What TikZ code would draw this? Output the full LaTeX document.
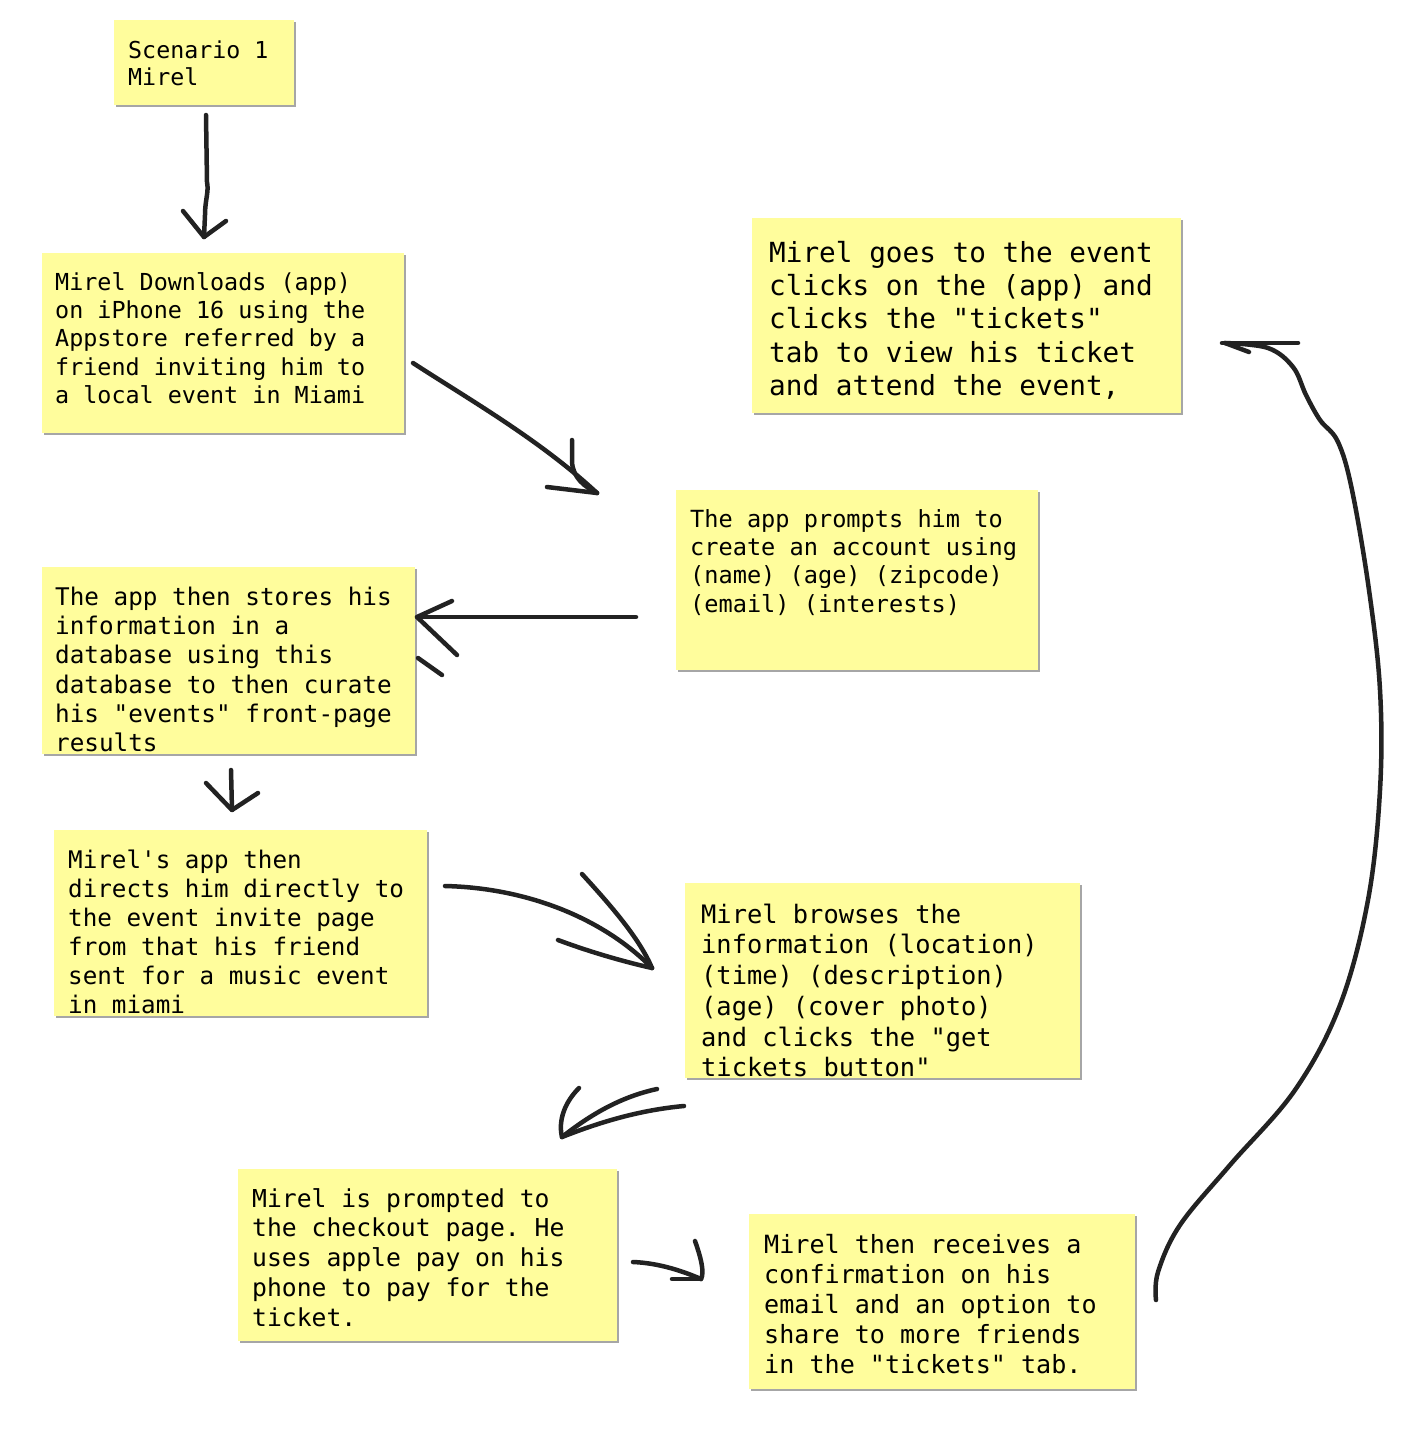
\documentclass[tikz,border=0pt]{standalone}
\usepackage{fontspec}
\setmonofont{DejaVu Sans Mono}
\usepackage{tikz}
\usetikzlibrary{shadows}

\definecolor{notefill}{HTML}{FFFD9C}
\definecolor{ink}{HTML}{222222}
\newcommand{\notefont}[2]{\ttfamily\fontsize{#1}{#2}\selectfont}
% a space as wide as a letter (align=left would make it narrow)
\newcommand{\monospaces}{\spaceskip=\fontcharwd\font`x\relax \xspaceskip=\spaceskip}

\begin{document}
\begin{tikzpicture}[x=1pt, y=-1pt]
			\tikzstyle{Note}	= [anchor=north west, fill=notefill, align=left, inner ysep=0pt,
								   execute at begin node=\monospaces,
								   drop shadow={shadow xshift=1.5pt, shadow yshift=-1.5pt, opacity=0.35, fill=black}]
			\tikzstyle{Hand}	= [line width=4.5pt, draw=ink, line cap=round, line join=round]

			\fill[white] (0,0) rectangle (1426,1456);
			\useasboundingbox (0,0) rectangle (1426,1456);

			% sticky notes
			\node (n1) at (114,20) [Note, inner xsep=14pt, text width=152pt, text height=38pt, text depth=47pt, font=\notefont{23.3}{27}]
				{Scenario 1\\Mirel};
			\node (n2) at (42,253) [Note, inner xsep=13pt, text width=336pt, text height=37pt, text depth=143pt, font=\notefont{23.4}{28.3}]
				{Mirel Downloads (app)\\on iPhone 16 using the\\Appstore referred by a\\friend inviting him to\\a local event in Miami};
			\node (n3) at (676,490) [Note, inner xsep=14pt, text width=334pt, text height=37pt, text depth=143pt, font=\notefont{23.6}{28.3}]
				{The app prompts him to\\create an account using\\(name) (age) (zipcode)\\(email) (interests)};
			\node (n4) at (42,567) [Note, inner xsep=13pt, text width=347pt, text height=38pt, text depth=149pt, font=\notefont{24.3}{29.3}]
				{The app then stores his\\information in a\\database using this\\database to then curate\\his "events" front-page\\results};
			\node (n5) at (54,830) [Note, inner xsep=14pt, text width=345pt, text height=38pt, text depth=148pt, font=\notefont{24.25}{29.1}]
				{Mirel's app then\\directs him directly to\\the event invite page\\from that his friend\\sent for a music event\\in miami};
			\node (n6) at (685,883) [Note, inner xsep=16pt, text width=363pt, text height=40pt, text depth=155pt, font=\notefont{25.4}{30.7}]
				{Mirel browses the\\information (location)\\(time) (description)\\(age) (cover photo)\\and clicks the "get\\tickets button"};
			\node (n7) at (238,1169) [Note, inner xsep=14pt, text width=351pt, text height=38pt, text depth=134pt, font=\notefont{24.7}{29.7}]
				{Mirel is prompted to\\the checkout page. He\\uses apple pay on his\\phone to pay for the\\ticket.};
			\node (n8) at (749,1214) [Note, inner xsep=15pt, text width=356pt, text height=39pt, text depth=136pt, font=\notefont{25.1}{30}]
				{Mirel then receives a\\confirmation on his\\email and an option to\\share to more friends\\in the "tickets" tab.};
			\node (n9) at (752,218) [Note, inner xsep=17pt, text width=395pt, text height=44pt, text depth=151pt, font=\notefont{27.7}{33.3}]
				{Mirel goes to the event\\clicks on the (app) and\\clicks the "tickets"\\tab to view his ticket\\and attend the event,};

			% free ends of the hand drawn arrows
			\coordinate (a1s) at (206,115);	\coordinate (a1e) at (204,237);
			\coordinate (a2s) at (413,363);	\coordinate (a2e) at (597,493);
			\coordinate (a3s) at (636,617);	\coordinate (a3e) at (417,617);
			\coordinate (a4s) at (231,770);	\coordinate (a4e) at (232,810);
			\coordinate (a5s) at (445,886);	\coordinate (a5e) at (652,968);
			\coordinate (a6s) at (684,1106);	\coordinate (a6e) at (562,1137);
			\coordinate (a7s) at (633,1262);	\coordinate (a7e) at (701,1279);
			\coordinate (a8s) at (1156,1300);	\coordinate (a8e) at (1225,343);

			\draw [Hand] (a1s) -- (207,182) .. controls (209,192) and (205,200) .. (205,215) -- (a1e);
			\draw [Hand] (183,211) -- (a1e) -- (226,221);

			\draw [Hand] (a2s) .. controls (470,400) and (540,440) .. (a2e);
			\draw [Hand] (572,440) -- (572,462) .. controls (573,478) and (585,487) .. (a2e);
			\draw [Hand] (547,487) -- (a2e);

			\draw [Hand] (a3s) -- (a3e);
			\draw [Hand] (452,601) -- (a3e) -- (457,655);
			\draw [Hand] (418,658) -- (442,675);

			\draw [Hand] (a4s) -- (a4e);
			\draw [Hand] (206,783) -- (a4e) -- (258,793);

			\draw [Hand] (a5s) .. controls (530,888) and (605,920) .. (a5e);
			\draw [Hand] (582,874) .. controls (615,910) and (640,940) .. (a5e);
			\draw [Hand] (558,940) .. controls (590,952) and (625,962) .. (a5e);

			\draw [Hand] (a6s) .. controls (640,1110) and (600,1122) .. (a6e);
			\draw [Hand] (657,1089) .. controls (620,1097) and (590,1115) .. (a6e);
			\draw [Hand] (579,1088) .. controls (565,1102) and (558,1120) .. (a6e);

			\draw [Hand] (a7s) .. controls (660,1263) and (685,1272) .. (a7e);
			\draw [Hand] (672,1279) -- (a7e);
			\draw [Hand] (695,1241) .. controls (700,1255) and (705,1272) .. (a7e);

			\draw [Hand] plot [smooth, tension=0.6] coordinates {(a8s) (1158,1272) (1180,1225) (1230,1165)
				(1295,1090) (1340,1005) (1368,900) (1380,790) (1380,690) (1369,590) (1352,490) (1338,442)
				(1320,420) (1306,395) (1293,367) (1268,348) (a8e)};
			\draw [Hand] (1222,343) -- (1298,343);
			\draw [Hand] (a8e) -- (1249,352);
\end{tikzpicture}
\end{document}
